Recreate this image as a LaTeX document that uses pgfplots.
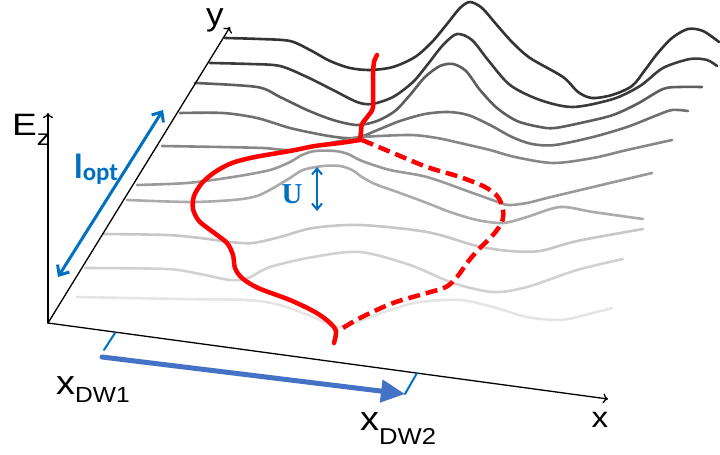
\documentclass[border=0pt]{standalone}
\usepackage{pgfplots}
\pgfplotsset{compat=1.18}
\usepackage{fontspec}
\setmainfont{Liberation Sans}
\newfontfamily\calib{Carlito}
\newfontfamily\serifU{Liberation Serif}
\usetikzlibrary{arrows.meta}
\definecolor{lblue}{RGB}{0,112,192}
\definecolor{sblue}{RGB}{68,114,196}
\definecolor{gA}{gray}{0.20}
\definecolor{gB}{gray}{0.23}
\definecolor{gC}{gray}{0.37}
\definecolor{gD}{gray}{0.44}
\definecolor{gE}{gray}{0.53}
\definecolor{gF}{gray}{0.60}
\definecolor{gG}{gray}{0.67}
\definecolor{gH}{gray}{0.78}
\definecolor{gI}{gray}{0.82}
\definecolor{gJ}{gray}{0.90}
\definecolor{rred}{RGB}{255,0,0}
\begin{document}
\begin{tikzpicture}
\begin{axis}[
  width=720bp, height=454bp, scale only axis,
  xmin=0, xmax=720, ymin=0, ymax=454, y dir=reverse,
  hide axis, clip=false,
  every axis plot/.append style={line cap=round, line join=round},
]
\coordinate (BL) at (axis cs:0,454);
\coordinate (TR) at (axis cs:720,0);
% ---------- grey ridge lines (pixel coordinates, y downwards) ----------
\addplot[smooth, tension=0.5, line width=2.6bp, color=gA] coordinates {
(225,38) (260,39) (290,41) (310,50) (330,61) (350,68) (370,70) (393,67) (415,57) (432,42) (447,24) (460,8) (470,2) (482,8) (496,24) (512,42) (530,58) (563,77) (578,92) (592,98) (612,95) (632,86) (645,70) (657,54) (672,38) (688,29) (703,31) (719,42)};
\addplot[smooth, tension=0.5, line width=2.6bp, color=gB] coordinates {
(210,63) (250,64) (280,66) (307,77) (333,90) (357,102) (372,104) (393,97) (413,82) (428,64) (443,45) (457,34) (472,40) (488,60) (510,85) (540,100) (573,107) (613,99) (640,86) (663,68) (690,59) (707,60) (717,66)};
\addplot[smooth, tension=0.5, line width=2.6bp, color=gC] coordinates {
(195,83) (257,87) (280,97) (307,110) (333,120) (357,125) (377,121) (395,111) (410,95) (425,77) (440,66) (453,64) (466,71) (480,90) (497,108) (517,121) (540,127) (555,128) (585,122) (613,115) (637,104) (663,89) (680,87) (702,87)};
\addplot[smooth, tension=0.5, line width=2.6bp, color=gD] coordinates {
(180,113) (223,113) (257,118) (290,128) (323,135) (345,138) (360,137) (380,129) (400,121) (425,114) (448,112) (468,115) (490,125) (512,137) (532,144) (555,145) (593,137) (627,127) (655,116) (672,110) (688,111)};
\addplot[smooth, tension=0.5, line width=2.6bp, color=gE] coordinates {
(162,146) (220,147) (263,148) (290,150) (320,145) (345,140) (362,137) (410,135) (437,138) (460,143) (490,150) (515,157) (553,163) (593,158) (627,150) (672,140)};
\addplot[smooth, tension=0.5, line width=2.6bp, color=gF] coordinates {
(137,185) (187,183) (233,177) (270,170) (290,162) (302,155) (315,151) (335,151) (348,154) (362,161) (390,170) (427,177) (470,192) (495,201) (508,205) (527,203) (547,198) (593,187) (652,173)};
\addplot[smooth, tension=0.5, line width=2.6bp, color=gG] coordinates {
(127,200) (190,202) (233,200) (257,196) (275,187) (290,178) (303,170) (323,166) (340,166) (352,170) (362,177) (375,184) (400,193) (427,203) (450,212) (477,220) (503,223) (527,217) (560,207) (593,212) (643,219)};
\addplot[smooth, tension=0.5, line width=2.6bp, color=gH] coordinates {
(103,234) (167,235) (200,238) (230,242) (253,243) (280,237) (313,228) (360,225) (427,232) (477,246) (510,251) (540,251) (577,241) (643,229)};
\addplot[smooth, tension=0.5, line width=2.6bp, color=gI] coordinates {
(85,268) (167,269) (200,274) (230,280) (248,278) (270,267) (313,257) (360,252) (410,265) (453,283) (493,292) (527,287) (577,270) (623,259)};
\addplot[smooth, tension=0.5, line width=2.6bp, color=gJ] coordinates {
(77,297) (180,299) (247,300) (280,305) (313,317) (333,326) (345,326) (360,321) (390,310) (420,302) (460,300) (493,307) (527,317) (560,320) (585,315) (612,308)};
% ---------- axes ----------
\addplot[black, line width=1.3bp, -{To[length=5bp,width=10bp]}] coordinates {(48,323) (48,113)};
\addplot[black, line width=1.3bp, -{To[length=5bp,width=10bp]}] coordinates {(48,323) (230,27)};
\addplot[black, line width=1.3bp, -{To[length=5bp,width=10bp]}] coordinates {(48,323) (608,399)};
% ---------- red domain wall ----------
\addplot[smooth, tension=0.4, line width=4.5bp, color=rred] coordinates {
(377,55) (374,62) (373,75) (373,107) (368,116) (362,124) (361,132) (360,140)};
\addplot[smooth, tension=0.5, line width=4.5bp, color=rred] coordinates {
(360,140) (340,143) (315,146) (290,151) (255,157) (232,163) (215,172) (202,183) (194,196) (193,209) (199,221) (213,232) (227,243) (233,255) (235,268) (242,278) (258,288) (290,300) (315,312) (329,322) (336,331) (334,343)};
\addplot[smooth, tension=0.5, line width=4.5bp, color=rred, line cap=butt, dash pattern=on 12bp off 6bp] coordinates {
(362,140) (393,153) (427,167) (460,177) (485,187) (498,197) (503,210) (502,222) (493,235) (478,250) (467,263) (457,277) (446,287) (427,293) (393,303) (360,318) (338,331)};
% ---------- blue annotations ----------
\addplot[lblue, line width=3bp, {Straight Barb[length=8bp,width=14bp]}-{Straight Barb[length=8bp,width=14bp]}] coordinates {(58,277) (163,110)};
\addplot[lblue, line width=2bp, {Straight Barb[length=6bp,width=10bp]}-{Straight Barb[length=6bp,width=10bp]}] coordinates {(317,167) (317,211)};
\addplot[lblue, line width=2bp] coordinates {(104,350) (115,333)};
\addplot[lblue, line width=2bp] coordinates {(405,394) (417,373)};
\addplot[sblue, line width=5bp, -{Triangle[length=24bp,width=22bp]}] coordinates {(102,357) (405,394)};
% ---------- labels ----------
\node[anchor=base, inner sep=0] at (axis cs:215,26) {\scalebox{1.1}[1]{\fontsize{32}{32}\selectfont y}};
\node[anchor=base west, inner sep=0] at (axis cs:12,135) {\scalebox{1.2}[1]{\fontsize{31}{31}\selectfont E\raisebox{-10bp}{\fontsize{22}{22}\selectfont z}}};
\node[anchor=base west, inner sep=0, text=lblue] at (axis cs:74,178) {\calib\bfseries\fontsize{35}{35}\selectfont l\raisebox{-2bp}{\fontsize{25}{25}\selectfont opt}};
\node[anchor=base, inner sep=0, text=lblue] at (axis cs:292,203) {\serifU\bfseries\fontsize{29}{29}\selectfont U};
\node[anchor=base west, inner sep=0] at (axis cs:56,394) {\scalebox{1.12}[1]{\fontsize{34}{34}\selectfont x\raisebox{-8bp}{\fontsize{22}{22}\selectfont DW1}}};
\node[anchor=base west, inner sep=0] at (axis cs:360,430) {\scalebox{1.12}[1]{\fontsize{34}{34}\selectfont x\raisebox{-14bp}{\fontsize{23}{23}\selectfont DW2}}};
\node[anchor=base, inner sep=0] at (axis cs:600,427) {\scalebox{1.15}[1]{\fontsize{29}{29}\selectfont x}};
\end{axis}
\pgfresetboundingbox
\path (BL) rectangle (TR);
\end{tikzpicture}
\end{document}
